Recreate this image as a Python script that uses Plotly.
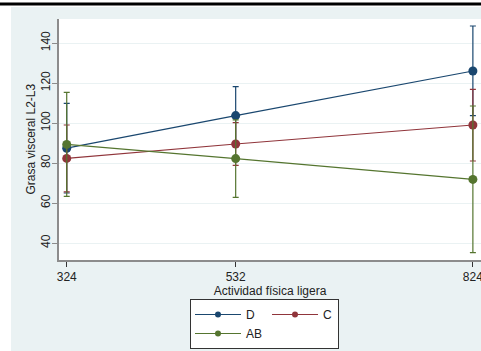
import plotly.graph_objects as go

# Light physical activity levels (x) and visceral fat estimates by group
actividad = [324, 532, 824]

d_mean = [87.4, 103.7, 126.0]
d_lo = [65.0, 89.2, 103.7]
d_hi = [109.8, 118.2, 148.5]

c_mean = [82.3, 89.5, 99.0]
c_lo = [65.6, 78.8, 81.0]
c_hi = [99.0, 100.2, 116.8]

ab_mean = [89.3, 82.2, 71.8]
ab_lo = [63.3, 62.8, 35.2]
ab_hi = [115.3, 101.6, 108.5]

y_ticks = [40, 60, 80, 100, 120, 140]

# (name, means, lower, upper, colour, legend column)
series = [
    ("D", d_mean, d_lo, d_hi, "#1a476f", "col1"),
    ("C", c_mean, c_lo, c_hi, "#90353b", "col2"),
    ("AB", ab_mean, ab_lo, ab_hi, "#55752f", "col1"),
]

W, H = 481, 351
ML, MR, MT, MB = 59, 0, 19, 91
PW, PH = W - ML - MR, H - MT - MB
BG = "#eaf2f3"
FONT = "Arial, Liberation Sans, sans-serif"


def px_x(p):
    return (p - ML) / PW


def px_y(p):
    return (H - MB - p) / PH


fig = go.Figure()
for name, mean, lo, hi, col, grp in series:
    fig.add_trace(go.Scatter(
        x=actividad, y=mean, name=name, mode="lines+markers",
        showlegend=False,
        line=dict(color=col, width=1.2),
        marker=dict(color=col, size=9),
        error_y=dict(type="data", symmetric=False,
                     array=[h - m for h, m in zip(hi, mean)],
                     arrayminus=[m - l for m, l in zip(mean, lo)],
                     color=col, thickness=1.2, width=3),
    ))

# legend keys with the smaller legend marker
for name, mean, lo, hi, col, grp in series:
    fig.add_trace(go.Scatter(
        x=[None], y=[None], name=name, mode="lines+markers", legendgroup=grp,
        line=dict(color=col, width=1.2), marker=dict(color=col, size=6),
    ))

fig.update_layout(
    width=W, height=H,
    margin=dict(l=ML, r=MR, t=MT, b=MB, autoexpand=False),
    paper_bgcolor=BG, plot_bgcolor="white",
    font=dict(family=FONT, size=12, color="#222222"),
    showlegend=True,
    legend=dict(
        orientation="h", x=px_x(190), y=px_y(299), xanchor="left", yanchor="top",
        bgcolor="white", bordercolor="#333333", borderwidth=1,
        itemwidth=46, font=dict(size=12, family=FONT),
        traceorder="grouped", tracegroupgap=0,
    ),
    xaxis=dict(
        range=[314.5, 834], tickvals=actividad, ticktext=[str(v) for v in actividad],
        showgrid=False, zeroline=False, showline=True, linecolor="#8c8c8c", linewidth=1.5,
        ticks="outside", ticklen=5, tickcolor="#333333", automargin=False,
        ticklabeloverflow="allow",
        title=dict(text="Actividad física ligera", standoff=0, font=dict(size=12)),
        tickfont=dict(size=12),
    ),
    yaxis=dict(
        range=[31.5, 152], tickvals=y_ticks, tickangle=-90, automargin=False,
        showgrid=True, gridcolor=BG, gridwidth=1, zeroline=False,
        showline=True, linecolor="#8c8c8c", linewidth=1.5,
        ticks="outside", ticklen=5, tickcolor="#8c8c8c",
        ticklabelstandoff=-3,
        tickfont=dict(size=12),
    ),
    annotations=[
        dict(text="Grasa visceral L2-L3", xref="paper", yref="paper",
             x=px_x(30), y=0.5, textangle=-90, showarrow=False,
             xanchor="center", yanchor="middle", font=dict(size=12)),
    ],
    shapes=[
        # white border strips around the grey panel
        dict(type="rect", xref="paper", yref="paper", layer="below",
             x0=px_x(0), x1=px_x(11), y0=px_y(351), y1=px_y(0),
             fillcolor="white", line=dict(width=0)),
        dict(type="rect", xref="paper", yref="paper", layer="below",
             x0=px_x(0), x1=px_x(481), y0=px_y(7), y1=px_y(0),
             fillcolor="white", line=dict(width=0)),
        dict(type="line", xref="paper", yref="paper",
             x0=px_x(0), x1=px_x(481), y0=px_y(4), y1=px_y(4),
             line=dict(color="black", width=3)),
    ],
)

fig.write_html("out.html")
